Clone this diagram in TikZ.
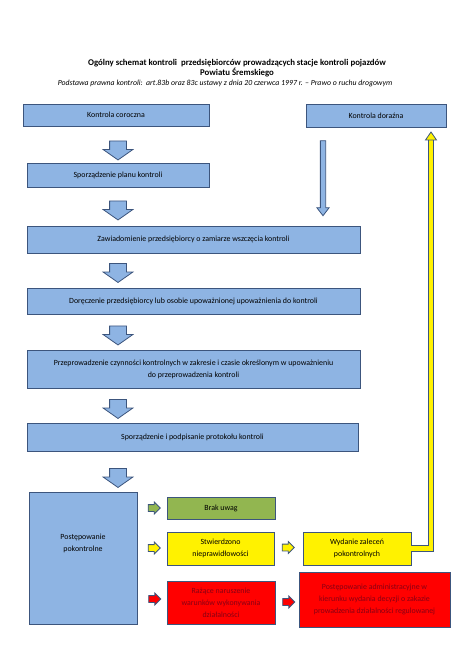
\documentclass[tikz,border=0pt]{standalone}
\usepackage{fontspec}
\setmainfont{Carlito}
\usepackage{xcolor}
\usetikzlibrary{shapes.arrows,positioning,calc}

\definecolor{boxblue}{RGB}{142,180,227}
\definecolor{boxline}{RGB}{60,85,125}
\definecolor{okgreen}{RGB}{146,182,80}
\definecolor{textred}{RGB}{135,0,20}

\tikzset{
  box/.style={draw=boxline, line width=0.9pt, fill=boxblue, inner sep=0pt, align=center,
    font=\fontsize{7.9}{12}\selectfont},
  titletext/.style={font=\fontsize{8.8}{10}\selectfont\bfseries},
  downarr/.style={single arrow, rotate=-90, draw=boxline, line width=0.8pt, fill=boxblue,
    inner xsep=0pt, inner ysep=8pt, single arrow head extend=6.5pt,
    single arrow tip angle=110, minimum height=19pt},
  sidearr/.style={single arrow, draw=boxline, line width=0.8pt, fill=#1,
    inner xsep=0pt, inner ysep=3pt, single arrow head extend=2.5pt,
    single arrow tip angle=90, minimum height=12pt},
}

\begin{document}
\begin{tikzpicture}[x=1pt,y=-1pt]
\useasboundingbox (0,0) rectangle (474,671);

% naglowek
\node[titletext] (tytul) at (237,63) {Ogólny schemat kontroli\ \ przedsiębiorców prowadzących stacje kontroli pojazdów};
\node[titletext] (powiat) at (237,73) {Powiatu Śremskiego};
\node[font=\fontsize{7.8}{9}\selectfont\itshape] (podstawa) at (225,83.5)
  {Podstawa prawna kontroli:\ \ art.83b oraz 83c ustawy z dnia 20 czerwca 1997 r. – Prawo o ruchu drogowym};

% glowny ciag
\node[box, minimum width=186pt, minimum height=22pt] (coroczna) at (116,115) {Kontrola coroczna};
\node[box, minimum width=140pt, minimum height=23pt] (dorazna) at (376,115.5) {Kontrola doraźna};
\node[box, minimum width=182pt, minimum height=24pt] (plan) at (118,175) {Sporządzenie planu kontroli};
\node[box, minimum width=333pt, minimum height=27pt] (zawiad) at (193.5,239.5)
  {Zawiadomienie przedsiębiorcy o zamiarze wszczęcia kontroli};
\node[box, minimum width=333pt, minimum height=26pt] (dorecz) at (193.5,301)
  {Doręczenie przedsiębiorcy lub osobie upoważnionej upoważnienia do kontroli};
\node[box, minimum width=333pt, minimum height=38pt] (przepr) at (193.5,369)
  {Przeprowadzenie czynności kontrolnych w zakresie i czasie określonym w upoważnieniu\\do przeprowadzenia kontroli};
\node[box, minimum width=331pt, minimum height=28pt] (protokol) at (192.5,437)
  {Sporządzenie i podpisanie protokołu kontroli};

\foreach \y [count=\i] in {147.5,207.5,270,332.5,406,475}
  \node[downarr] (strz\i) at (118,\y) {};

\node[single arrow, rotate=-90, draw=boxline, line width=0.8pt, fill=boxblue,
  inner xsep=0pt, inner ysep=2.25pt, single arrow head extend=3.5pt,
  single arrow tip angle=75, minimum height=75pt] (strzdor) at (323,176.5) {};

% postepowanie pokontrolne
\node[box, minimum width=108pt, minimum height=132pt,
  label={[font=\fontsize{7.9}{12}\selectfont, align=center, yshift=15pt]center:Postępowanie\\pokontrolne}]
  (pokontr) at (83,558) {};
\node[box, fill=okgreen, minimum width=108pt, minimum height=22pt] (brak) at (221,508) {Brak uwag};
\node[box, fill=yellow, minimum width=107pt, minimum height=33pt] (stwierdz) at (220.5,548.5)
  {Stwierdzono\\nieprawidłowości};
\node[box, fill=yellow, minimum width=108pt, minimum height=33pt] (wydanie) at (357,548.5)
  {Wydanie zaleceń\\pokontrolnych};
\node[box, fill=red, text=textred, minimum width=108pt, minimum height=43pt] (razace) at (221,602.5)
  {Rażące naruszenie\\warunków wykonywania\\działalności};
\node[box, fill=red, text=textred, minimum width=151pt, minimum height=55pt] (admin) at (374.5,599.5)
  {Postępowanie administracyjne w\\kierunku wydania decyzji o zakazie\\prowadzenia działalności regulowanej};

\node[sidearr=okgreen] (s1) at (152.5,508) {};
\node[sidearr=yellow] (s2) at (152.5,548) {};
\node[sidearr=red] (s3) at (153,599) {};
\node[sidearr=yellow] (s4) at (286.5,547.5) {};
\node[sidearr=red] (s5) at (287,602) {};

% powrot do kontroli doraznej
\coordinate (powrot) at (431,132);
\draw[line width=1pt, draw=boxline, double=yellow, double distance=4.5pt]
  (wydanie.east) -| ($(powrot)+(0,7)$);
\filldraw[fill=yellow, draw=boxline, line width=0.8pt]
  (powrot) -- ++(-5.5,8) -- ++(11,0) -- cycle;
\end{tikzpicture}
\end{document}
